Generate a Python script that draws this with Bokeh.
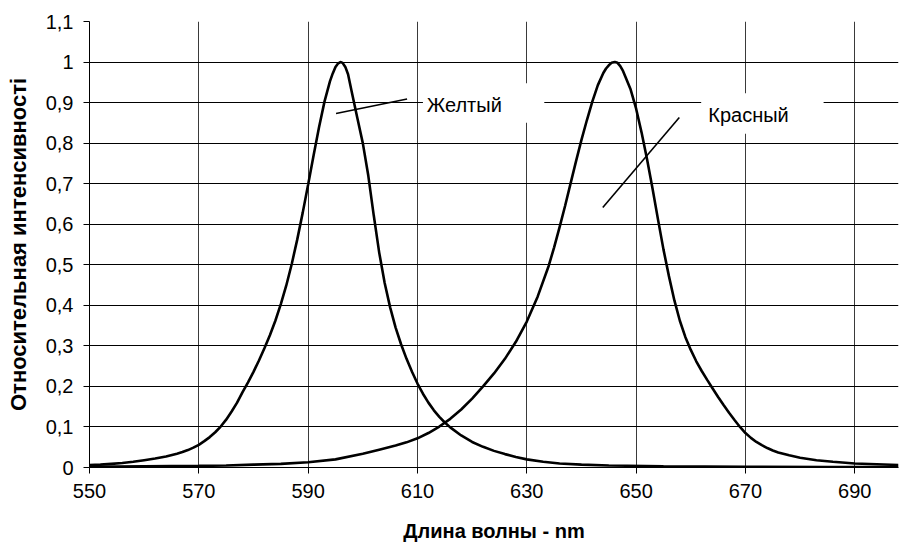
from bokeh.plotting import figure
from bokeh.models import FixedTicker, Label, BoxAnnotation, Range1d
from bokeh.embed import file_html
from bokeh.resources import INLINE

# --- data ---
yellow_x = [550, 552, 554, 556, 558, 560, 562, 564, 566, 567, 568, 569, 570, 571, 572, 573, 574, 575, 576, 577, 578,
            579, 580, 581, 582, 583, 584, 585, 586, 587, 588, 589, 590, 591, 592, 593, 594, 594.5, 595,
            595.5, 595.9, 596.3, 596.8, 597.3, 598, 599, 600, 601, 602, 603, 604, 605, 606, 607, 608, 609,
            610, 611, 612, 613, 614, 615, 616, 618, 620, 622, 624, 626, 628, 630, 633, 636, 640, 645,
            655, 670, 685, 698]
yellow_y = [0.006, 0.007, 0.009, 0.011, 0.014, 0.018, 0.022, 0.027, 0.034, 0.038, 0.043, 0.049, 0.056, 0.065, 0.075, 0.087, 0.101, 0.118, 0.138, 0.160, 0.186,
            0.210, 0.236, 0.264, 0.294, 0.326, 0.362, 0.403, 0.449, 0.502, 0.562, 0.628, 0.698, 0.770, 0.840, 0.903, 0.953, 0.972, 0.988,
            0.997, 1.0, 0.998, 0.988, 0.970, 0.925, 0.862, 0.800, 0.720, 0.622, 0.530, 0.455, 0.395, 0.345, 0.304, 0.268, 0.236,
            0.207, 0.182, 0.160, 0.141, 0.125, 0.111, 0.099, 0.079, 0.063, 0.051, 0.041, 0.033, 0.026, 0.020, 0.014, 0.010, 0.007, 0.005,
            0.003, 0.002, 0.001, 0.001]

red_x = [550, 560, 570, 575, 580, 585, 590, 595, 600, 603, 606, 608, 610, 612, 614, 616, 618, 620,
         622, 624, 626, 628, 630, 632, 634, 635, 636, 637, 638, 639, 640, 641, 642, 643, 644, 644.5, 645,
         645.5, 646.1, 646.6, 647.1, 647.6, 648, 649, 650, 651, 652, 653, 654, 655, 656, 657, 658, 659, 660,
         661, 662, 663, 664, 665, 666, 667, 668, 669, 670, 671, 672, 673, 674, 675, 676, 678, 680, 683, 686, 690, 694, 698]
red_y = [0.002, 0.003, 0.004, 0.005, 0.007, 0.009, 0.013, 0.020, 0.034, 0.044, 0.054, 0.062, 0.072, 0.085, 0.101, 0.120, 0.143, 0.170,
         0.200, 0.232, 0.268, 0.310, 0.360, 0.422, 0.497, 0.543, 0.593, 0.645, 0.700, 0.755, 0.808, 0.857, 0.903, 0.943, 0.973, 0.984, 0.992,
         0.998, 1.0, 0.998, 0.990, 0.978, 0.965, 0.932, 0.885, 0.826, 0.760, 0.688, 0.612, 0.538, 0.472, 0.412, 0.362, 0.322, 0.290,
         0.262, 0.238, 0.216, 0.195, 0.174, 0.154, 0.135, 0.117, 0.100, 0.085, 0.073, 0.063, 0.055, 0.048, 0.042, 0.037, 0.030, 0.024, 0.018, 0.014, 0.010, 0.008, 0.006]

x_ticks = [550, 570, 590, 610, 630, 650, 670, 690]
y_ticks = [0, 0.1, 0.2, 0.3, 0.4, 0.5, 0.6, 0.7, 0.8, 0.9, 1, 1.1]
y_tick_labels = ["0", "0,1", "0,2", "0,3", "0,4", "0,5", "0,6", "0,7", "0,8", "0,9", "1", "1,1"]

x_title = "Длина волны - nm"
y_title = "Относительная интенсивності"
label_yellow = "Желтый"
label_red = "Красный"

FONT = "Liberation Sans"

p = figure(width=899, height=549, output_backend="svg", toolbar_location=None,
           x_range=Range1d(550, 698), y_range=Range1d(0, 1.1),
           min_border_left=89, min_border_right=1, min_border_top=21, min_border_bottom=82)
p.outline_line_color = None
p.background_fill_color = "white"
p.border_fill_color = "white"

# axes
p.xaxis.ticker = FixedTicker(ticks=x_ticks)
p.yaxis.ticker = FixedTicker(ticks=y_ticks)
p.xgrid.ticker = FixedTicker(ticks=x_ticks)
p.ygrid.ticker = FixedTicker(ticks=y_ticks)
p.yaxis.major_label_overrides = {t: l for t, l in zip(y_ticks, y_tick_labels)}

for ax in (p.xaxis, p.yaxis):
    ax.axis_line_color = "black"
    ax.axis_line_width = 1
    ax.major_tick_line_color = "black"
    ax.major_tick_out = 6
    ax.major_tick_in = 0
    ax.minor_tick_line_color = None
    ax.major_label_text_font = FONT
    ax.major_label_text_font_size = "20px"
    ax.major_label_text_color = "black"
    ax.axis_label_text_font = FONT
    ax.axis_label_text_font_style = "bold"
    ax.axis_label_text_color = "black"

p.xaxis.axis_label_text_font_size = "20px"
p.yaxis.axis_label_text_font_size = "22px"
p.xaxis.axis_label = x_title
p.yaxis.axis_label = y_title
p.xaxis.major_label_standoff = 10
p.yaxis.major_label_standoff = 10
p.xaxis.axis_label_standoff = 19
p.yaxis.axis_label_standoff = 12

p.xgrid.grid_line_color = "#3a3a3a"
p.ygrid.grid_line_color = "black"
p.xgrid.grid_line_width = 1
p.ygrid.grid_line_width = 1

# curves
p.line(yellow_x, yellow_y, line_color="black", line_width=2.6)
p.line(red_x, red_y, line_color="black", line_width=2.6)

# label backgrounds (hide the grid behind the texts)
p.add_layout(BoxAnnotation(left=611.0, right=633.2, bottom=0.850, top=0.948,
                           fill_color="white", fill_alpha=1, line_color=None, level="underlay"))
p.add_layout(BoxAnnotation(left=661.9, right=684.3, bottom=0.823, top=0.923,
                           fill_color="white", fill_alpha=1, line_color=None, level="underlay"))

# leader lines
p.segment(x0=[595.1, 643.9], y0=[0.873, 0.641], x1=[608.1, 657.9], y1=[0.909, 0.863],
          line_color="black", line_width=1.6)

p.add_layout(Label(x=611.7, y=0.895, text=label_yellow, text_font=FONT, text_font_size="20px",
                   text_color="black", text_baseline="alphabetic", text_align="left"))
p.add_layout(Label(x=663.2, y=0.870, text=label_red, text_font=FONT, text_font_size="20px",
                   text_color="black", text_baseline="alphabetic", text_align="left"))

open("out.html", "w").write(file_html(p, INLINE))
